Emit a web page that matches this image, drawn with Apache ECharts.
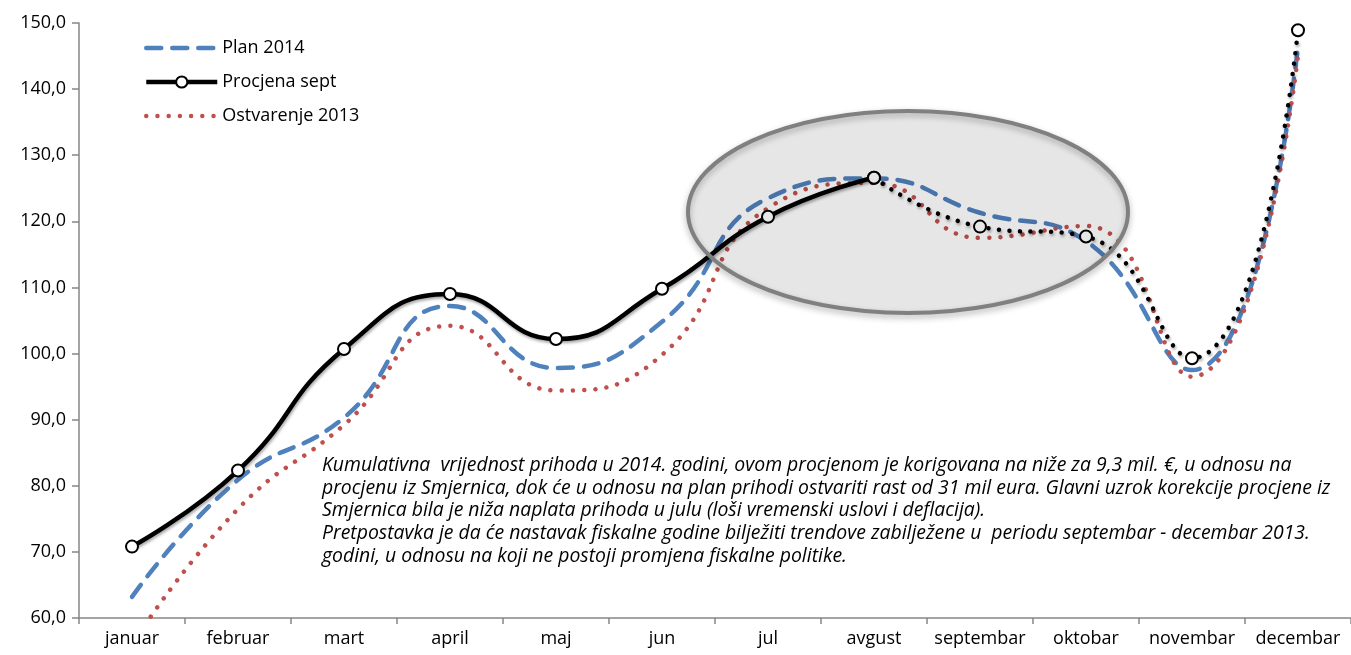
<!DOCTYPE html>
<html>
<head>
<meta charset="utf-8">
<script src="https://cdn.jsdelivr.net/npm/echarts@6/dist/echarts.min.js"></script>
<style>
  html, body { margin: 0; padding: 0; background: #fff; }
  #chart { width: 1351px; height: 655px; }
</style>
</head>
<body>
<div id="chart"></div>
<script>
// mjeseci
var months = ['januar', 'februar', 'mart', 'april', 'maj', 'jun', 'jul', 'avgust', 'septembar', 'oktobar', 'novembar', 'decembar'];
// Plan 2014
var plan2014 = [63.2, 80.9, 90.3, 107.2, 97.8, 104.8, 123.5, 126.5, 121.3, 117.0, 97.5, 146.5];
// Procjena sept - ostvareno (jan - avg)
var procjena = [70.8, 82.3, 100.7, 109.0, 102.2, 109.8, 120.7, 126.6, null, null, null, null];
// Procjena sept - prognoza (avg - dec)
var procjenaPrognoza = [null, null, null, null, null, null, null, 126.6, 119.2, 117.7, 99.3, 148.9];
// Ostvarenje 2013
var ostvarenje2013 = [56.0, 76.5, 89.2, 104.2, 94.4, 99.8, 122.0, 125.8, 117.5, 119.3, 96.5, 145.0];
// y osa
var yMin = 60, yMax = 150, yStep = 10;

var note = 'Kumulativna  vrijednost prihoda u 2014. godini, ovom procjenom je korigovana na niže za 9,3 mil. €, u odnosu na\n' +
  'procjenu iz Smjernica, dok će u odnosu na plan prihodi ostvariti rast od 31 mil eura. Glavni uzrok korekcije procjene iz\n' +
  'Smjernica bila je niža naplata prihoda u julu (loši vremenski uslovi i deflacija).\n' +
  'Pretpostavka je da će nastavak fiskalne godine bilježiti trendove zabilježene u  periodu septembar - decembar 2013.\n' +
  'godini, u odnosu na koji ne postoji promjena fiskalne politike.';

var FONT = '"Open Sans", sans-serif';
var axisColor = '#868686';
var blackShadow = { shadowColor: 'rgba(0,0,0,0.35)', shadowBlur: 3, shadowOffsetX: 1, shadowOffsetY: 2 };
var marker = { color: '#fff', borderColor: '#000', borderWidth: 2 };

var chart = echarts.init(document.getElementById('chart'));
chart.setOption({
  animation: false,
  backgroundColor: '#fff',
  grid: { left: 79, right: -8, top: 23, bottom: 37, containLabel: false },
  legend: {
    left: 144, top: 39, orient: 'vertical', padding: 0,
    itemWidth: 71, itemHeight: 14, itemGap: 16,
    textStyle: { fontFamily: FONT, fontSize: 18, color: '#000' },
    data: [
      { name: 'Plan 2014', itemStyle: { opacity: 0 }, lineStyle: { width: 4.5 } },
      { name: 'Procjena sept', lineStyle: { width: 4.5 } },
      { name: 'Ostvarenje 2013', itemStyle: { opacity: 0 }, lineStyle: { width: 4.5 } }
    ]
  },
  xAxis: {
    type: 'category',
    data: months,
    boundaryGap: true,
    axisLine: { lineStyle: { color: axisColor, width: 1.5 } },
    axisTick: { show: true, length: 6, interval: 0, lineStyle: { color: axisColor, width: 1.5 } },
    axisLabel: { interval: 0, margin: 12, fontFamily: FONT, fontSize: 18, color: '#000' },
    splitLine: { show: false }
  },
  yAxis: {
    type: 'value',
    min: yMin, max: yMax, interval: yStep,
    axisLine: { show: true, lineStyle: { color: axisColor, width: 1.5 } },
    axisTick: { show: true, length: 7, lineStyle: { color: axisColor, width: 1.5 } },
    axisLabel: {
      margin: 13, fontFamily: FONT, fontSize: 18, color: '#000',
      formatter: function (v) { return v.toFixed(1).replace('.', ','); }
    },
    splitLine: { show: false }
  },
  series: [
    {
      name: 'Plan 2014', type: 'line', data: plan2014, smooth: 0.5, symbol: 'none', z: 2,
      lineStyle: { color: '#4F81BD', width: 4.5, type: [15, 11], cap: 'round' },
      itemStyle: { color: '#4F81BD' }
    },
    {
      name: 'Procjena sept', type: 'line', data: procjena, smooth: 0.5, z: 5,
      symbol: 'circle', symbolSize: 12,
      lineStyle: Object.assign({ color: '#000', width: 4.5 }, blackShadow),
      itemStyle: marker
    },
    {
      name: 'Ostvarenje 2013', type: 'line', data: ostvarenje2013, smooth: 0.5, symbol: 'none', z: 3,
      lineStyle: { color: '#C0504D', width: 4.5, type: [0.01, 11.2], cap: 'round' },
      itemStyle: { color: '#C0504D' }
    },
    {
      name: 'Procjena sept', type: 'line', data: procjenaPrognoza, smooth: 0.5, z: 4,
      symbol: 'circle', symbolSize: 12,
      lineStyle: Object.assign({ color: '#000', width: 4.5, type: [0.01, 10.5], cap: 'round' }, blackShadow),
      itemStyle: marker
    }
  ],
  graphic: [
    {
      type: 'ellipse', z: 10,
      shape: { cx: 908, cy: 212, rx: 220, ry: 101 },
      style: {
        fill: 'rgba(0,0,0,0.075)', stroke: '#808080', lineWidth: 4,
        shadowColor: 'rgba(0,0,0,0.3)', shadowBlur: 6, shadowOffsetY: 3
      }
    },
    {
      type: 'text', z: 10, left: 322, top: 454,
      style: {
        text: note, fill: '#000',
        font: 'italic 19.4px ' + FONT, lineHeight: 22.7
      }
    }
  ]
});
</script>
</body>
</html>
